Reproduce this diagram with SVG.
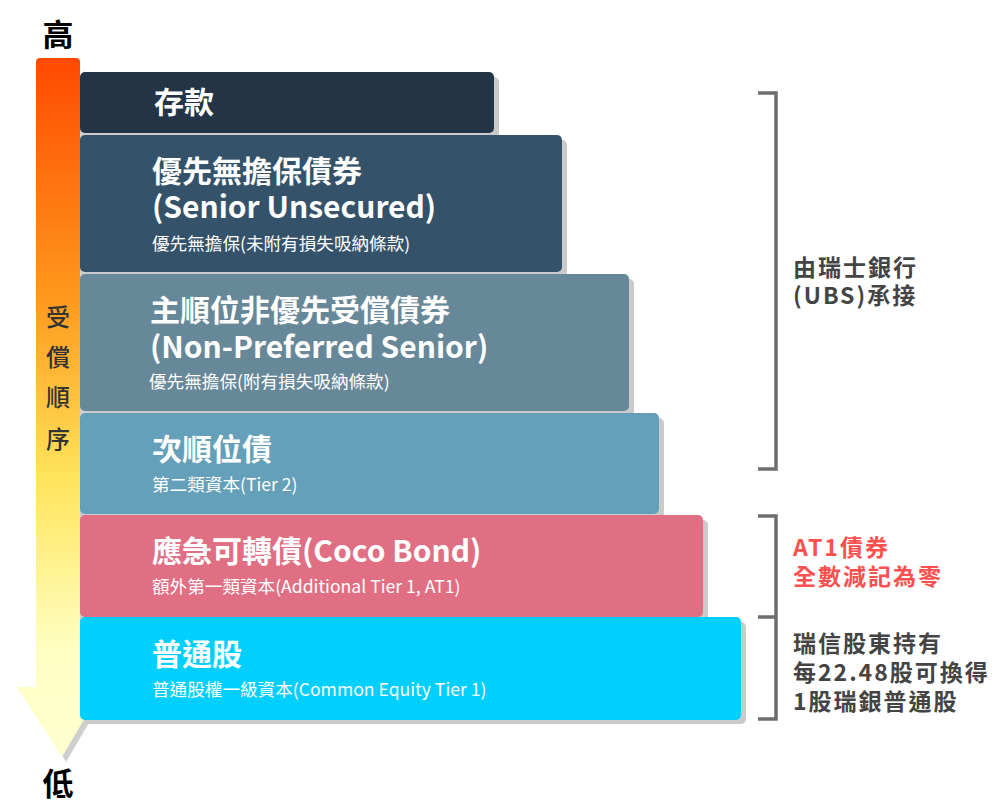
<svg xmlns="http://www.w3.org/2000/svg" width="1000" height="806" viewBox="0 0 1000 806">
<defs>
<linearGradient id="arrowGrad" x1="0" y1="0" x2="0" y2="1">
<stop offset="0" stop-color="#FF4A00"/>
<stop offset="0.35" stop-color="#FF9A1E"/>
<stop offset="0.6" stop-color="#FFE45A"/>
<stop offset="0.85" stop-color="#FFFFC4"/>
<stop offset="1" stop-color="#FFFFD0"/>
</linearGradient>
</defs>
<style>
text{font-family:"Noto Sans CJK TC","Noto Sans",sans-serif}
.t{fill:#fff;font-size:30px;font-weight:700}
.s{fill:#fff;font-size:17.6px;font-weight:400}
.sh{fill:#CACACA}
.lv{fill:#000;font-size:31px;font-weight:700}
.vt{fill:#333;font-size:24px;font-weight:500}
.r{fill:#444;font-size:23px;font-weight:700;letter-spacing:2px}
.red{fill:#FF4F4F}
.br{fill:none;stroke:#6E6E6E;stroke-width:3.5}
</style>

<g id="axis">
<path class="sh" d="M84,66 L84,692 L107,692 L66,762 L25,692 L40,692 Z" opacity="0.9"/>
<path d="M40,58 Q36,58 36,62 L36,687 L17,687 L62,757 L103,687 L80,687 L80,62 Q80,58 76,58 Z" fill="url(#arrowGrad)"/>
<text class="lv" x="58" y="46" text-anchor="middle">高</text>
<text class="lv" x="58" y="795" text-anchor="middle">低</text>
<text class="vt" x="58" y="326" text-anchor="middle">受</text>
<text class="vt" x="58" y="366" text-anchor="middle">償</text>
<text class="vt" x="58" y="406" text-anchor="middle">順</text>
<text class="vt" x="58" y="448" text-anchor="middle">序</text>
</g>

<g id="bar-deposit">
<rect class="sh" x="84" y="77" width="415" height="61" rx="5"/>
<rect x="80" y="72" width="414" height="61" rx="5" fill="#223445"/>
<text class="t" x="154" y="113">存款</text>
</g>

<g id="bar-senior">
<rect class="sh" x="84" y="140" width="483" height="137" rx="5"/>
<rect x="80" y="135" width="482" height="137" rx="5" fill="#34536A"/>
<text class="t" x="152" y="182">優先無擔保債券</text>
<text class="t" x="152" y="218">(Senior Unsecured)</text>
<text class="s" x="152" y="250">優先無擔保(未附有損失吸納條款)</text>
</g>

<g id="bar-nonpreferred">
<rect class="sh" x="84" y="279" width="550" height="137" rx="5"/>
<rect x="80" y="274" width="549" height="137" rx="5" fill="#678899"/>
<text class="t" x="150" y="321">主順位非優先受償債券</text>
<text class="t" x="150" y="358">(Non-Preferred Senior)</text>
<text class="s" x="149" y="388">優先無擔保(附有損失吸納條款)</text>
</g>

<g id="bar-tier2">
<rect class="sh" x="84" y="418" width="580" height="101" rx="5"/>
<rect x="80" y="413" width="579" height="101" rx="5" fill="#64A0B9"/>
<text class="t" x="152" y="460">次順位債</text>
<text class="s" x="152" y="491">第二類資本(Tier 2)</text>
</g>

<g id="bar-coco">
<rect class="sh" x="84" y="520" width="624" height="101" rx="5"/>
<rect x="80" y="515" width="623" height="102" rx="5" fill="#E06F84"/>
<text class="t" x="152" y="562">應急可轉債(Coco Bond)</text>
<text class="s" x="152" y="593">額外第一類資本(Additional Tier 1, AT1)</text>
</g>

<g id="bar-common">
<rect class="sh" x="84" y="622" width="662" height="102" rx="5"/>
<rect x="80" y="617" width="661" height="103" rx="5" fill="#00CFFF"/>
<text class="t" x="152" y="665">普通股</text>
<text class="s" x="152" y="696">普通股權一級資本(Common Equity Tier 1)</text>
</g>

<g id="connectors">
<path class="br" d="M758,93 L776,93 L776,469 L758,469"/>
<path class="br" d="M758,516 L776,516 L776,719 L758,719 M758,617 L776,617"/>
</g>

<g id="note-ubs">
<text class="r" x="793" y="276">由瑞士銀行</text>
<text class="r" x="793" y="304">(UBS)承接</text>
</g>
<g id="note-at1">
<text class="r red" x="793" y="556">AT1債券</text>
<text class="r red" x="793" y="585">全數減記為零</text>
</g>
<g id="note-common">
<text class="r" x="793" y="652">瑞信股東持有</text>
<text class="r" x="793" y="681">每22.48股可換得</text>
<text class="r" x="793" y="710">1股瑞銀普通股</text>
</g>
</svg>
